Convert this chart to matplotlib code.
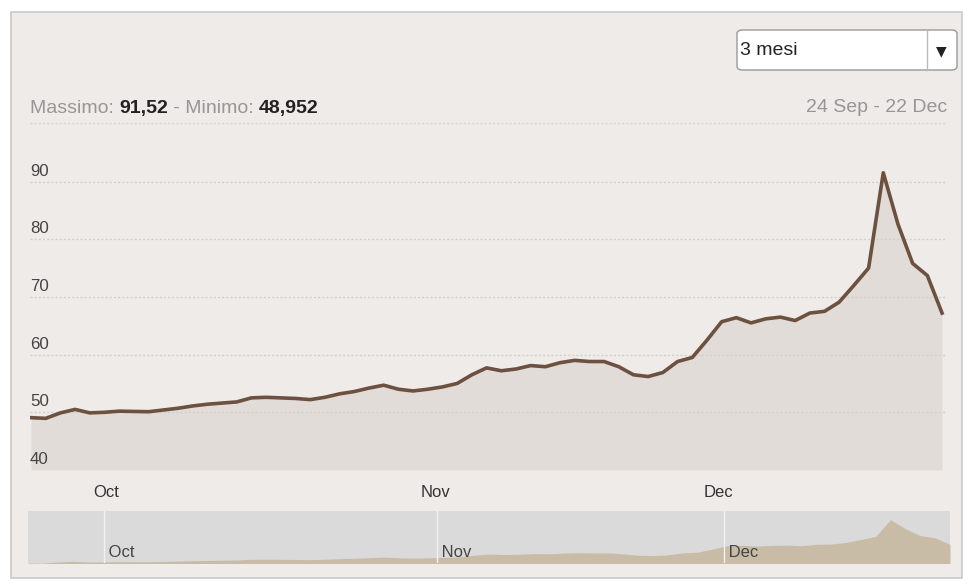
import numpy as np
import matplotlib
matplotlib.use("Agg")
import matplotlib.pyplot as plt
from matplotlib.patches import Rectangle, FancyBboxPatch
from matplotlib.lines import Line2D
import matplotlib.transforms as mtransforms

plt.rcParams["font.family"] = ["Liberation Sans", "DejaVu Sans"]

# price per trading day, 24 Sep - 22 Dec
prices = [
    49.07, 48.952, 49.9, 50.5, 49.9, 50.0, 50.2, 50.15, 50.1, 50.4,
    50.7, 51.1, 51.4, 51.6, 51.8, 52.5, 52.6, 52.5, 52.4, 52.2,
    52.6, 53.2, 53.6, 54.2, 54.7, 54.0, 53.7, 54.0, 54.4, 55.0,
    56.5, 57.7, 57.2, 57.5, 58.1, 57.9, 58.6, 59.0, 58.8, 58.8,
    57.9, 56.5, 56.2, 56.9, 58.8, 59.5, 62.5, 65.7, 66.4, 65.5,
    66.2, 66.5, 65.9, 67.2, 67.5, 69.1, 72.0, 75.0, 91.52, 82.6,
    75.8, 73.7, 67.2,
]
month_labels = ["Oct", "Nov", "Dec"]
month_pos = [5.1, 27.5, 46.8]
y_ticks = [40, 50, 60, 70, 80, 90]
max_label = "91,52"
min_label = "48,952"
range_label = "24 Sep - 22 Dec"
period_label = "3 mesi"

W, H = 971, 586
fig = plt.figure(figsize=(W / 100, H / 100), dpi=100)
fig.patch.set_facecolor("white")


def px_rect(left, top, right, bottom):
    return [left / W, 1 - bottom / H, (right - left) / W, (bottom - top) / H]


bg = "#efebe8"
fig.add_artist(Rectangle((11 / W, 1 - 578 / H), 951 / W, 566 / H,
                         transform=fig.transFigure, facecolor=bg,
                         edgecolor="#c9c9c9", lw=1.2, zorder=0))

x = np.arange(len(prices))

# main chart
ax = fig.add_axes(px_rect(30, 160, 945, 470))
ax.set_facecolor(bg)
ax.fill_between(x, 40, prices, color="#e1dcd7", lw=0, zorder=1)
ax.plot(x, prices, color="#6c5140", lw=2.6, solid_joinstyle="round", zorder=3)
ax.set_xlim(-0.07, 62.2)
ax.set_ylim(40, 93.73)
for v in y_ticks[1:]:
    ax.axhline(v, color="#d3cfcb", lw=1, ls=(0, (1.5, 1.5)), zorder=2)
off = mtransforms.offset_copy(ax.transData, fig=fig, x=0, y=6, units="dots")
blend = mtransforms.blended_transform_factory(ax.transAxes, off)
for v in y_ticks:
    ax.text(0.0, v, str(v), transform=blend, ha="left", va="baseline",
            fontsize=12.2, color="#444444")
ax.set_yticks([])
ax.set_xticks(month_pos)
ax.set_xticklabels(month_labels, fontsize=12, color="#333333")
ax.tick_params(axis="x", length=0, pad=11)
for s in ax.spines.values():
    s.set_visible(False)

# header texts
t1 = fig.text(30 / W, 1 - 113 / H, "Massimo: ", fontsize=14, color="#969696",
              ha="left", va="baseline")
t2 = ax.annotate(max_label, xy=(1, 0), xycoords=t1, fontsize=14,
                 fontweight="bold", color="#222222", va="bottom", ha="left",
                 annotation_clip=False)
t3 = ax.annotate(" - Minimo: ", xy=(1, 0), xycoords=t2, fontsize=14,
                 color="#969696", va="bottom", ha="left", annotation_clip=False)
ax.annotate(min_label, xy=(1, 0), xycoords=t3, fontsize=14,
            fontweight="bold", color="#222222", va="bottom", ha="left",
            annotation_clip=False)
fig.text(947 / W, 1 - 112 / H, range_label, fontsize=14, color="#969696",
         ha="right", va="baseline")
fig.add_artist(Line2D([30 / W, 945 / W], [1 - 123 / H, 1 - 123 / H],
                      transform=fig.transFigure, color="#d8d4d0", lw=1,
                      ls=(0, (1.5, 1.5))))

# dropdown
fig.add_artist(FancyBboxPatch((737 / W, 1 - 70 / H), 220 / W, 40 / H,
                              boxstyle="round,pad=0,rounding_size=0.006",
                              transform=fig.transFigure, facecolor="white",
                              edgecolor="#999999", lw=1))
fig.add_artist(Line2D([927 / W, 927 / W], [1 - 70 / H, 1 - 30 / H],
                      transform=fig.transFigure, color="#bbbbbb", lw=1))
fig.text(740 / W, 1 - 55 / H, period_label, fontsize=14, color="#222222",
         ha="left", va="baseline")
fig.text(941 / W, 1 - 51 / H, "\u25bc", fontsize=10, color="#222222",
         ha="center", va="center", family="DejaVu Sans")

# navigator
nav = fig.add_axes(px_rect(28, 511, 950, 563))
nav.set_facecolor("#dadada")
nav.fill_between(x, 0, prices, color="#c9bca6", lw=0)
nav.set_xlim(0, len(prices) - 1)
nav.set_ylim(48.9, 100)
for p, lab in zip(month_pos, month_labels):
    nav.axvline(p, color="#f2f2f2", lw=1)
    nav.text(p, 0.2, " " + lab, transform=nav.get_xaxis_transform(),
             fontsize=12, color="#444444", ha="left", va="center")
nav.set_xticks([])
nav.set_yticks([])
for s in nav.spines.values():
    s.set_visible(False)

fig.savefig("out.png", dpi=100, facecolor="white")
